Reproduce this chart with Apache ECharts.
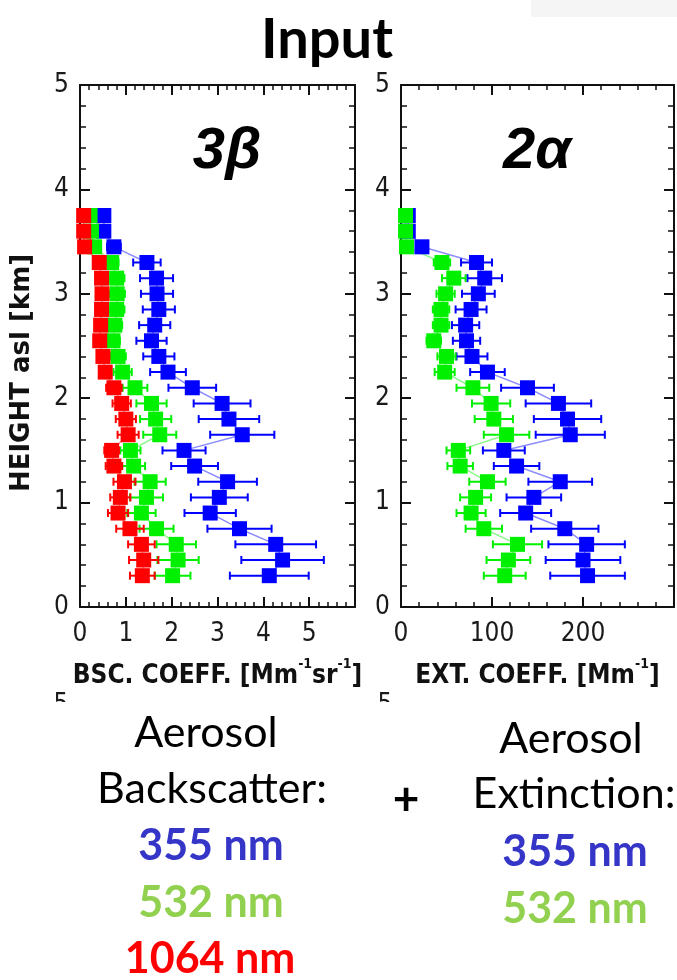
<!DOCTYPE html>
<html>
<head>
<meta charset="utf-8">
<script src="https://cdn.jsdelivr.net/npm/echarts@6/dist/echarts.min.js"></script>
<style>
html,body{margin:0;padding:0;background:#fff;}
#chart{width:677px;height:980px;}
</style>
</head>
<body>
<div id="chart"></div>
<script>
// heights of the profile levels [km]
var heights=[0.3,0.45,0.6,0.75,0.9,1.05,1.2,1.35,1.5,1.65,1.8,1.95,2.1,2.25,2.4,2.55,2.7,2.85,3.0,3.15,3.3,3.45,3.6,3.75];

// backscatter coefficient [Mm-1 sr-1]
var bsc355=[4.13,4.42,4.27,3.48,2.84,3.04,3.22,2.5,2.27,3.54,3.25,3.1,2.45,1.92,1.72,1.56,1.63,1.72,1.68,1.67,1.46,0.74,0.52,0.52];
var bsc355Err=[0.86,0.9,0.88,0.7,0.56,0.62,0.64,0.51,0.47,0.7,0.66,0.62,0.52,0.39,0.34,0.33,0.34,0.35,0.35,0.36,0.3,0.15,0.1,0.1];
var bsc532=[2.02,2.14,2.1,1.67,1.34,1.45,1.53,1.17,1.1,1.74,1.65,1.56,1.2,0.93,0.83,0.72,0.76,0.8,0.81,0.8,0.69,0.32,0.25,0.22];
var bsc532Err=[0.39,0.45,0.43,0.37,0.31,0.36,0.34,0.25,0.22,0.36,0.34,0.33,0.27,0.2,0.17,0.15,0.16,0.17,0.17,0.17,0.15,0.07,0.06,0.06];
var bsc1064=[1.36,1.39,1.34,1.09,0.83,0.88,0.97,0.74,0.69,1.05,1.0,0.91,0.74,0.55,0.5,0.43,0.45,0.47,0.48,0.47,0.42,0.1,0.08,0.08];
var bsc1064Err=[0.27,0.32,0.29,0.3,0.22,0.22,0.24,0.18,0.16,0.23,0.22,0.2,0.17,0.12,0.11,0.1,0.1,0.1,0.1,0.1,0.1,0.03,0.03,0.03];

// extinction coefficient [Mm-1]
var ext355=[205,200,204,180,137,146,175,127,113,186,183,173,139,95,78,72,71,77,85,92,83,23,8,8];
var ext355Err=[41,41,42,37,28,30,35,25,23,38,37,36,29,19,17,15,15,17,18,19,17,5,4,4];
var ext532=[114,118,128,91,77,82,95,65,63,116,102,99,79,48,50,36,44,44,49,58,45,6,5,5];
var ext532Err=[23,24,27,20,16,17,20,14,13,25,21,21,18,11,10,8,9,9,10,13,9,3,3,3];

var bscTicks=[0,1,2,3,4,5];
var extTicks=[0,100,200];
var heightTicks=[0,1,2,3,4,5];

var tickFont='"DejaVu Sans Condensed","Liberation Sans Narrow",sans-serif';
var textFont='Lato,"Open Sans",sans-serif';

function pairs(xs,errs){
	var out=[];
	for(var i=0;i<heights.length;i++){
		out.push([xs[i],heights[i],errs?errs[i]:0]);
	}
	return out;
}

function errRender(params,api){
	var x=api.value(0),y=api.value(1),e=api.value(2);
	var p1=api.coord([x-e,y]);
	var p2=api.coord([x+e,y]);
	var c=4;
	var st={stroke:api.visual('color'),lineWidth:2};
	return {type:'group',children:[
		{type:'line',shape:{x1:p1[0],y1:p1[1],x2:p2[0],y2:p2[1]},style:st},
		{type:'line',shape:{x1:p1[0],y1:p1[1]-c,x2:p1[0],y2:p1[1]+c},style:st},
		{type:'line',shape:{x1:p2[0],y1:p2[1]-c,x2:p2[0],y2:p2[1]+c},style:st}
	]};
}

function xAx(grid,max,iv,labels,pos,showLabel,name){
	return {
		type:'value',gridIndex:grid,min:0,max:max,interval:iv,position:pos,
		axisLine:{show:true,onZero:false,lineStyle:{color:'#111',width:2}},
		axisTick:{show:true,inside:true,length:10,lineStyle:{color:'#111',width:2}},
		minorTick:{show:true,splitNumber:5,length:5,lineStyle:{color:'#111',width:1.5}},
		splitLine:{show:false},
		axisLabel:{show:showLabel,margin:14,fontFamily:tickFont,fontSize:26,color:'#1a1a1a',
			formatter:function(v){return labels.indexOf(v)>=0?String(v):'';}},
		name:name||'',nameLocation:'middle',nameGap:50,
		nameTextStyle:{
			rich:{
				a:{fontFamily:tickFont,fontWeight:'bold',fontSize:26,color:'#111',lineHeight:32,verticalAlign:'bottom'},
				s:{fontFamily:tickFont,fontWeight:'bold',fontSize:14,color:'#111',lineHeight:32,verticalAlign:'top'}
			}
		}
	};
}
function yAx(grid,pos,showLabel){
	return {
		type:'value',gridIndex:grid,min:0,max:5,interval:1,position:pos,
		axisLine:{show:true,onZero:false,lineStyle:{color:'#111',width:2}},
		axisTick:{show:true,inside:true,length:10,lineStyle:{color:'#111',width:2}},
		minorTick:{show:true,splitNumber:5,length:6,lineStyle:{color:'#111',width:1.5}},
		splitLine:{show:false},
		axisLabel:{show:showLabel,margin:11,fontFamily:tickFont,fontSize:26,color:'#1a1a1a',
			formatter:function(v){return heightTicks.indexOf(v)>=0?String(v):'';}}
	};
}

function profile(name,xs,errs,color,xi,yi){
	return [
		{type:'custom',name:name+' err',xAxisIndex:xi,yAxisIndex:yi,itemStyle:{color:color},
			renderItem:errRender,data:pairs(xs,errs),z:2},
		{type:'line',name:name,xAxisIndex:xi,yAxisIndex:yi,data:pairs(xs),
			symbol:'rect',symbolSize:15,showSymbol:true,
			itemStyle:{color:color},lineStyle:{color:color,width:1.5,opacity:0.45},z:3}
	];
}

var chart=echarts.init(document.getElementById('chart'),null,{renderer:'canvas'});
var series=[].concat(
	profile('355 bsc',bsc355,bsc355Err,'#0000ff',0,0),
	profile('532 bsc',bsc532,bsc532Err,'#00f000',0,0),
	profile('1064 bsc',bsc1064,bsc1064Err,'#ff0000',0,0),
	profile('355 ext',ext355,ext355Err,'#0000ff',2,2),
	profile('532 ext',ext532,ext532Err,'#00f000',2,2)
);

function label(x,y,text,weight,color){
	return {type:'text',x:x,y:y,style:{text:text,font:weight+' 43px '+textFont,fill:color,align:'center',verticalAlign:'middle'}};
}

var option={
	backgroundColor:'#ffffff',
	animation:false,
	grid:[
		{left:80,top:85,width:275,height:522},
		{left:401,top:85,width:273,height:522}
	],
	xAxis:[
		xAx(0,6,1,bscTicks,'bottom',true,'{a|BSC. COEFF. [Mm}{s|-1}{a|sr}{s|-1}{a|]}'),
		xAx(0,6,1,bscTicks,'top',false),
		xAx(1,300,100,extTicks,'bottom',true,'{a|EXT. COEFF. [Mm}{s|-1}{a|]}'),
		xAx(1,300,100,extTicks,'top',false)
	],
	yAxis:[
		yAx(0,'left',true),
		yAx(0,'right',false),
		yAx(1,'left',true),
		yAx(1,'right',false)
	],
	series:series,
	graphic:[
		{type:'rect',shape:{x:531,y:0,width:146,height:17},style:{fill:'#f5f5f5'}},
		{type:'text',x:327,y:40,style:{text:'Input',font:'bold 56px '+textFont,fill:'#000',align:'center',verticalAlign:'middle'}},
		{type:'text',x:227,y:152,style:{text:'3β',font:'italic bold 58px "Liberation Sans",Arial,sans-serif',fill:'#000',align:'center',verticalAlign:'middle'}},
		{type:'text',x:537,y:152,style:{text:'2α',font:'italic bold 58px "Liberation Sans",Arial,sans-serif',fill:'#000',align:'center',verticalAlign:'middle'}},
		{type:'text',x:22,y:373,rotation:Math.PI/2,style:{text:'HEIGHT asl [km]',font:'bold 26px "DejaVu Sans",sans-serif',fill:'#111',align:'center',verticalAlign:'middle'}},
		{type:'text',x:61,y:692,style:{text:'5',font:'26px '+tickFont,fill:'#1a1a1a',align:'center',verticalAlign:'top'}},
		{type:'text',x:385,y:692,style:{text:'5',font:'26px '+tickFont,fill:'#1a1a1a',align:'center',verticalAlign:'top'}},
		{type:'rect',shape:{x:0,y:702,width:677,height:278},style:{fill:'#fff'}},
		label(206,733,'Aerosol','normal','#000'),
		label(212,789,'Backscatter:','normal','#000'),
		label(211,846,'355 nm','bold','#3535c8'),
		label(211,903,'532 nm','bold','#92d050'),
		label(210,959,'1064 nm','bold','#ff0000'),
		{type:'text',x:406,y:800,style:{text:'+',font:'bold 46px '+textFont,fill:'#000',align:'center',verticalAlign:'middle'}},
		label(571,739,'Aerosol','normal','#000'),
		label(574,794,'Extinction:','normal','#000'),
		label(575,852,'355 nm','bold','#3535c8'),
		label(575,909,'532 nm','bold','#92d050')
	]
};
chart.setOption(option);
</script>
</body>
</html>
